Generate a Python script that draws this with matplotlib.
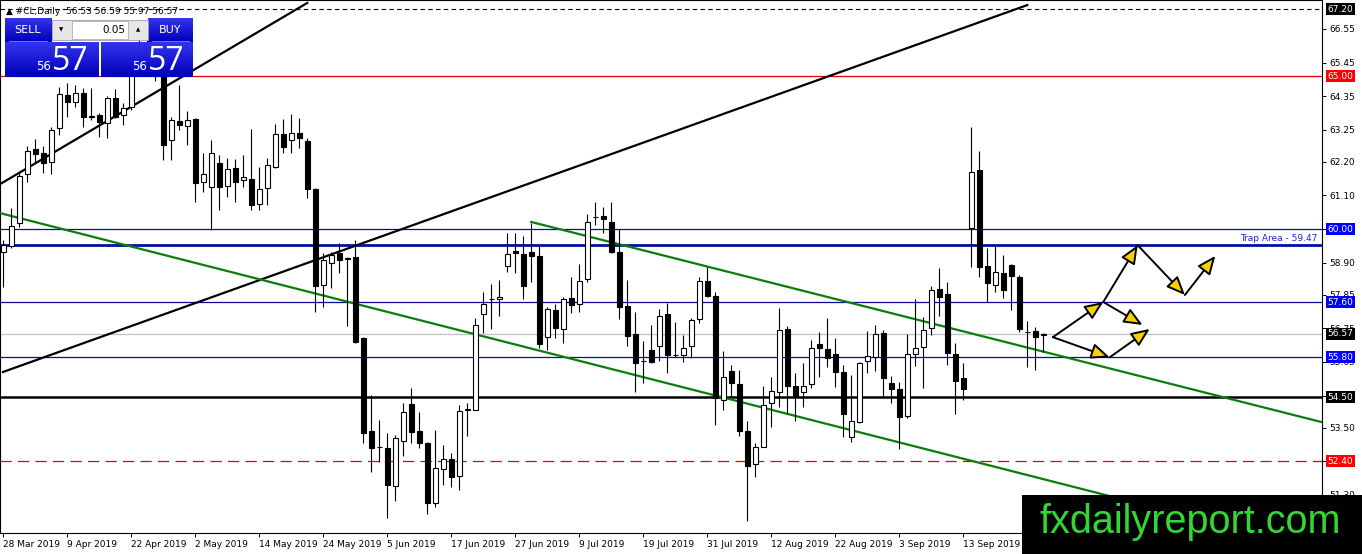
import matplotlib.pyplot as plt
import numpy as np
from matplotlib.patches import Rectangle
from matplotlib.colors import LinearSegmentedColormap

# ---- daily candles #CL (bar index 0 = 28 Mar 2019) ----
opens = [59.25, 59.44, 60.20, 61.80, 62.62, 62.48, 62.19, 63.31, 64.39, 64.16,
         64.45, 63.70, 63.73, 63.47, 64.29, 63.73, 63.99, 65.30, 65.90, 65.70,
         65.20, 62.91, 63.54, 63.37, 63.60, 61.54, 61.37, 62.16, 61.41, 62.00,
         61.60, 61.64, 60.82, 61.34, 62.03, 63.11, 62.91, 63.14, 62.88, 61.31,
         58.17, 58.89, 59.21, 59.05, 59.08, 56.43, 53.39, 52.87, 52.83, 51.59,
         53.06, 54.27, 53.39, 53.00, 51.03, 52.15, 52.47, 51.92, 54.08, 54.08,
         57.22, 57.71, 57.71, 58.79, 59.28, 59.18, 59.25, 59.12, 56.47, 57.35,
         56.73, 57.74, 57.55, 58.37, 60.40, 60.43, 60.23, 59.25, 57.48, 56.56,
         55.68, 56.04, 56.17, 57.22, 55.88, 55.88, 56.17, 57.05, 58.30, 57.81,
         54.40, 55.35, 54.93, 53.39, 52.31, 52.86, 54.31, 54.67, 56.73, 54.87,
         54.67, 54.93, 56.24, 56.07, 55.91, 55.32, 53.19, 53.68, 55.68, 55.81,
         56.60, 54.96, 54.76, 53.88, 55.91, 56.14, 56.76, 58.04, 57.87, 55.91,
         55.12, 60.03, 61.93, 58.79, 58.17, 58.56, 58.82, 58.43, 56.63, 56.66,
         56.53]
highs = [59.64, 60.69, 61.83, 62.72, 62.94, 62.72, 63.34, 64.65, 64.78, 64.71,
         64.61, 64.61, 63.80, 64.35, 64.58, 64.12, 65.37, 66.20, 66.30, 66.00,
         65.45, 63.67, 64.71, 63.86, 63.63, 62.49, 62.91, 62.42, 62.32, 62.29,
         62.42, 63.27, 62.03, 62.32, 63.43, 63.60, 63.76, 63.63, 62.98, 61.34,
         59.21, 59.25, 59.54, 59.08, 59.64, 56.46, 54.57, 53.76, 53.32, 53.26,
         54.31, 54.80, 54.01, 53.03, 53.42, 52.93, 52.67, 54.24, 54.31, 57.09,
         57.94, 58.20, 58.33, 59.87, 59.87, 59.77, 60.20, 59.44, 57.45, 57.55,
         57.77, 58.43, 58.86, 60.49, 60.88, 60.72, 60.88, 60.00, 58.33, 57.28,
         56.33, 56.86, 57.38, 57.58, 56.96, 56.53, 57.09, 58.43, 58.76, 57.94,
         56.01, 55.55, 55.39, 53.72, 53.00, 54.86, 55.16, 57.41, 56.83, 55.29,
         55.61, 56.37, 56.63, 57.09, 56.43, 55.55, 55.22, 55.65, 56.66, 56.86,
         56.70, 55.19, 54.99, 56.56, 57.71, 57.12, 58.13, 58.72, 58.27, 56.27,
         55.61, 63.34, 62.55, 59.38, 59.48, 59.15, 58.86, 58.50, 56.99, 56.79,
         56.59]
lows = [58.10, 59.38, 60.07, 61.54, 62.16, 61.83, 61.80, 63.08, 63.67, 63.99,
        63.34, 63.57, 63.01, 62.98, 63.63, 63.40, 63.90, 65.10, 65.20, 64.84,
        62.26, 62.26, 63.24, 62.75, 60.88, 61.21, 59.97, 60.62, 61.05, 60.88,
        61.37, 60.62, 60.62, 60.79, 62.00, 62.49, 62.49, 62.65, 61.01, 57.28,
        57.45, 58.07, 58.56, 56.83, 56.27, 53.00, 52.05, 52.38, 50.54, 51.10,
        52.57, 53.00, 52.83, 50.67, 50.90, 51.62, 51.56, 51.46, 53.23, 54.08,
        56.60, 56.73, 57.15, 58.59, 58.56, 57.71, 58.27, 56.11, 56.04, 56.43,
        56.27, 57.25, 57.28, 58.27, 60.13, 59.87, 59.21, 57.05, 56.17, 54.67,
        54.96, 55.62, 55.68, 55.29, 55.81, 55.65, 55.78, 56.92, 57.77, 53.59,
        54.08, 54.50, 53.23, 50.44, 51.88, 52.86, 53.52, 54.17, 53.95, 53.72,
        54.17, 54.80, 55.16, 55.48, 54.83, 53.19, 53.03, 53.65, 55.29, 55.35,
        54.50, 54.31, 52.80, 53.81, 55.50, 54.80, 56.53, 57.15, 55.55, 53.95,
        54.40, 58.76, 58.43, 57.61, 57.94, 57.74, 57.35, 56.63, 55.48, 55.38,
        55.97]
closes = [59.48, 60.10, 61.73, 62.55, 62.45, 62.16, 63.24, 64.42, 64.16, 64.45,
          63.67, 63.67, 63.50, 64.29, 63.67, 63.96, 65.20, 65.90, 65.70, 65.30,
          62.75, 63.57, 63.40, 63.57, 61.51, 61.80, 62.49, 61.37, 61.96, 61.54,
          61.70, 60.79, 61.31, 62.09, 63.11, 62.68, 63.14, 62.98, 61.31, 58.13,
          58.99, 59.15, 58.99, 59.03, 56.30, 53.32, 52.83, 52.85, 51.62, 53.16,
          54.01, 53.36, 53.00, 51.03, 52.18, 52.47, 51.88, 54.04, 54.11, 56.86,
          57.55, 57.70, 57.77, 59.18, 59.23, 58.13, 59.12, 56.24, 57.38, 56.76,
          57.71, 57.51, 58.30, 60.23, 60.38, 60.33, 59.25, 57.45, 56.50, 55.61,
          55.67, 55.65, 57.15, 55.88, 55.87, 56.11, 57.02, 58.30, 57.81, 54.47,
          55.16, 54.96, 53.39, 52.24, 52.86, 54.24, 54.70, 56.69, 54.87, 54.54,
          54.87, 56.11, 56.11, 55.78, 55.32, 53.95, 53.72, 55.61, 55.85, 56.56,
          55.12, 54.76, 53.85, 55.91, 56.11, 56.69, 58.00, 57.77, 55.94, 55.02,
          54.76, 61.86, 58.76, 58.23, 58.59, 58.00, 58.46, 56.73, 56.62, 56.47,
          56.57]

date_idx = [0, 8, 16, 24, 32, 40, 48, 56, 64, 72, 80, 88, 96, 104, 112, 120]
date_lbl = ["28 Mar 2019", "9 Apr 2019", "22 Apr 2019", "2 May 2019", "14 May 2019",
            "24 May 2019", "5 Jun 2019", "17 Jun 2019", "27 Jun 2019", "9 Jul 2019",
            "19 Jul 2019", "31 Jul 2019", "12 Aug 2019", "22 Aug 2019", "3 Sep 2019",
            "13 Sep 2019"]
price_ticks = [66.55, 65.45, 64.35, 63.25, 62.20, 61.10, 60.00, 58.90, 57.85,
               56.75, 55.65, 54.55, 53.50, 52.40, 51.30]

# levels drawn on chart
blue_levels = [60.00, 57.60, 55.80]
trap_level = 59.47
support_level = 54.50
red_level = 65.00
red_dash_level = 52.40
top_level = 67.20
bid = 56.57

# trend lines (bar index, price)
black1_x, black1_y = [-0.4, 38.0], [61.47, 67.40]
black2_x, black2_y = [-0.04, 128.0], [55.32, 67.33]
green1_x, green1_y = [-0.4, 164.8], [60.52, 49.49]
green2_x, green2_y = [66.0, 164.8], [60.23, 53.68]

# projected path arrows: (x0, y0, x1, y1)
arrows = [(131.2, 56.46, 137.5, 57.61),
          (137.5, 57.61, 141.8, 59.47),
          (141.8, 59.47, 147.7, 57.84),
          (147.7, 57.84, 151.5, 59.12),
          (137.5, 57.61, 142.4, 56.86),
          (131.2, 56.46, 138.3, 55.80),
          (138.3, 55.80, 143.3, 56.73)]

W, H = 1362, 554
fig = plt.figure(figsize=(W / 100, H / 100), dpi=100)
ax = fig.add_axes([0, 21 / H, 1322 / W, 533 / H])
ax.set_xlim(-0.41, 164.84)
ax.set_ylim(50.05, 67.496)

o = np.array(opens); c = np.array(closes)
x = np.arange(len(o))
ax.vlines(x, lows, highs, color='black', lw=0.8, zorder=4)
up = c >= o
body = np.maximum(np.abs(c - o), 0.02)
ax.bar(x[up], body[up], bottom=np.minimum(o, c)[up], width=0.6,
       color='white', edgecolor='black', lw=0.8, zorder=5)
ax.bar(x[~up], body[~up], bottom=np.minimum(o, c)[~up], width=0.6,
       color='black', edgecolor='black', lw=0.8, zorder=5)

# horizontal levels
ax.axhline(top_level, color='black', lw=0.8, ls=(0, (4, 3)), zorder=2)
ax.axhline(red_level, color='#e00000', lw=0.9, zorder=2)
for lv in blue_levels:
    ax.axhline(lv, color='#0a0aa0', lw=0.9, zorder=2)
ax.axhline(trap_level, color='#0010a0', lw=2.0, zorder=2)
ax.axhline(bid, color='#c0c0c0', lw=0.9, zorder=2)
ax.axhline(support_level, color='black', lw=1.8, zorder=2)
ax.axhline(red_dash_level, color='#e00000', lw=0.9, ls=(0, (9, 5)), zorder=2)
ax.text(164.3, trap_level + 0.06, "Trap Area - 59.47", color='#2323c8', fontsize=6.5,
        ha='right', va='bottom', zorder=3)

# trend lines
ax.plot(black1_x, black1_y, color='black', lw=1.6, zorder=3)
ax.plot(black2_x, black2_y, color='black', lw=1.6, zorder=3)
ax.plot(green1_x, green1_y, color='#0b7d0b', lw=1.6, zorder=3)
ax.plot(green2_x, green2_y, color='#0b7d0b', lw=1.6, zorder=3)

for x0, y0, x1, y1 in arrows:
    ax.annotate('', xy=(x1, y1), xytext=(x0, y0), zorder=6,
                arrowprops=dict(arrowstyle='-|>,head_length=0.75,head_width=0.32',
                                mutation_scale=15, fc='#f7d000', ec='black', lw=1.4,
                                shrinkA=0, shrinkB=0))

# axes styling
for s in ax.spines.values():
    s.set_color('black')
    s.set_linewidth(0.8)
ax.yaxis.tick_right()
ax.set_yticks(price_ticks)
ax.set_yticklabels(["%.2f" % v for v in price_ticks])
ax.set_xticks(date_idx)
ax.set_xticklabels(date_lbl)
ax.tick_params(axis='both', direction='out', length=3, width=0.7, labelsize=6.5,
               colors='black', pad=2)
plt.setp(ax.get_xticklabels(), ha='left')

tr = ax.get_yaxis_transform()
tags = [(top_level, 'black'), (red_level, '#ff0000'), (60.00, '#0000ff'),
        (57.60, '#0000ff'), (bid, 'black'), (55.80, '#0000ff'),
        (support_level, 'black'), (red_dash_level, '#ff0000')]
for lv, bg in tags:
    ax.text(1.004, lv, "%.2f" % lv, transform=tr, color='white', fontsize=6.5,
            ha='left', va='center', zorder=10, clip_on=False,
            bbox=dict(fc=bg, ec='none', pad=1.2))

# overlay in pixel coordinates: title, trade panel, watermark
ov = fig.add_axes([0, 0, 1, 1], zorder=20)
ov.set_xlim(0, W)
ov.set_ylim(H, 0)
ov.axis('off')

ov.text(6, 11, "\u25b2 #CL,Daily  56.53 56.59 55.97 56.57", fontsize=6.5,
        va='center', ha='left', color='black')

blue = LinearSegmentedColormap.from_list('b', ['#3434f0', '#0000b8'])
grad = np.linspace(0, 1, 50).reshape(-1, 1)
for ext in [(5, 52, 42, 18), (148, 193, 42, 18), (5, 99, 77, 42), (101, 193, 77, 42)]:
    ov.imshow(grad, extent=ext, cmap=blue, aspect='auto', zorder=21)
ov.add_patch(Rectangle((52, 20), 96, 20, fc='#e6e6e6', ec='#a0a0a0', lw=0.6, zorder=21))
ov.add_patch(Rectangle((72, 21), 56, 18, fc='white', ec='#b0b0b0', lw=0.6, zorder=22))
ov.plot([9, 47], [41, 41], color='#8080ff', lw=0.6, zorder=22)
ov.plot([152, 189], [41, 41], color='#8080ff', lw=0.6, zorder=22)
ov.text(28, 30, "SELL", color='white', fontsize=8, ha='center', va='center', zorder=23)
ov.text(170, 30, "BUY", color='white', fontsize=8, ha='center', va='center', zorder=23)
ov.text(125, 30, "0.05", color='black', fontsize=7.5, ha='right', va='center', zorder=23)
ov.text(61, 30, "\u25bc", color='black', fontsize=4, ha='center', va='center', zorder=23)
ov.text(138, 30, "\u25b2", color='black', fontsize=4, ha='center', va='center', zorder=23)
for x0 in [5, 101]:
    ov.text(x0 + 46, 70, "56", color='white', fontsize=8.5, ha='right', va='baseline',
            zorder=23)
    ov.text(x0 + 47, 70, "57", color='white', fontsize=23, ha='left', va='baseline',
            family='Open Sans', zorder=23)

ov.add_patch(Rectangle((1022, 495), W - 1022, H - 495, fc='black', ec='none', zorder=21))
ov.text(1190, 522, "fxdailyreport.com", color='#33d633', fontsize=28.5,
        family='Liberation Sans', ha='center', va='center', zorder=22)
ov.set_xlim(0, W)
ov.set_ylim(H, 0)

fig.savefig("out.png", dpi=100, facecolor='white')
